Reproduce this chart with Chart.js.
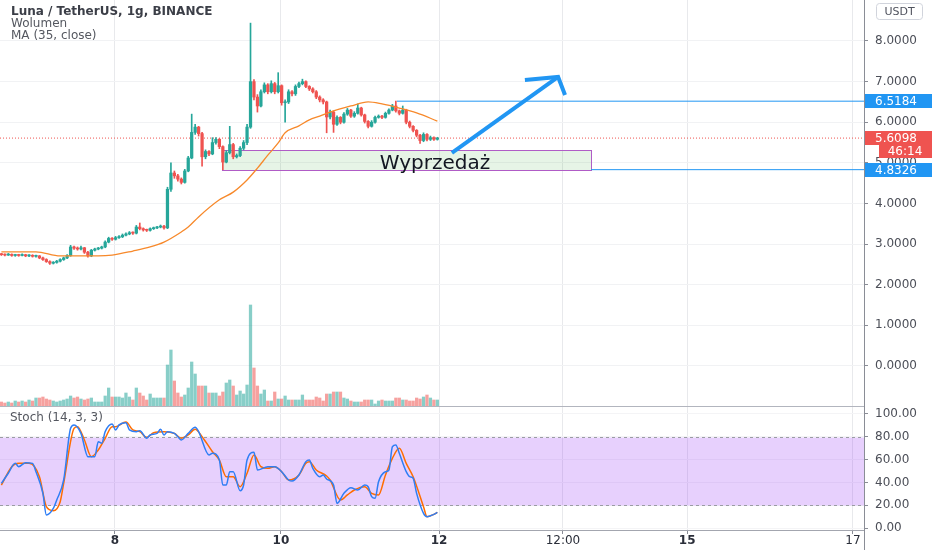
<!DOCTYPE html>
<html>
<head>
<meta charset="utf-8">
<title>Luna / TetherUS, 1g, BINANCE</title>
<script src="https://cdn.jsdelivr.net/npm/chart.js@4.4.1/dist/chart.umd.min.js"></script>
<style>
  html, body { margin: 0; padding: 0; background: #fff; }
  #wrap { position: relative; width: 932px; height: 550px; }
  #mainBox { position: absolute; left: 0; top: 0; width: 932px; height: 406px; }
  #stochBox { position: absolute; left: 0; top: 406px; width: 932px; height: 144px; }
</style>
</head>
<body>
<div id="wrap">
  <div id="mainBox"><canvas id="priceChart"></canvas></div>
  <div id="stochBox"><canvas id="stochChart"></canvas></div>
</div>
<script>
// hourly candles, index 0 = first visible bar
const opens = [
  2.75,2.74,2.73,2.75,2.72,2.73,2.72,2.74,2.71,2.72,
  2.70,2.71,2.66,2.62,2.57,2.53,2.55,2.58,2.62,2.66,
  2.72,2.93,2.90,2.88,2.91,2.80,2.71,2.85,2.88,2.90,
  2.93,3.05,3.14,3.12,3.16,3.18,3.22,3.25,3.28,3.27,
  3.42,3.38,3.35,3.34,3.38,3.40,3.42,3.44,3.40,4.35,
  4.75,4.68,4.60,4.52,4.80,5.12,5.75,5.88,5.72,5.15,
  5.28,5.22,5.50,5.58,5.40,5.02,5.25,5.45,5.15,5.18,
  5.36,5.50,5.88,7.00,6.62,6.40,6.75,6.92,6.75,6.95,
  6.75,6.90,6.48,6.50,6.75,6.70,6.88,6.95,7.00,6.88,
  6.82,6.75,6.62,6.55,6.50,6.13,6.25,5.95,6.12,6.00,
  6.20,6.30,6.15,6.22,6.35,6.18,6.02,5.90,6.00,6.12,
  6.15,6.12,6.22,6.30,6.40,6.28,6.22,6.30,6.00,5.90,
  5.80,5.68,5.55,5.70,5.58,5.62,5.58
];
const closes = [
  2.74,2.73,2.75,2.72,2.73,2.72,2.74,2.71,2.72,2.70,
  2.71,2.66,2.62,2.57,2.53,2.55,2.58,2.62,2.66,2.72,
  2.93,2.90,2.88,2.91,2.80,2.71,2.85,2.88,2.90,2.93,
  3.05,3.14,3.12,3.16,3.18,3.22,3.25,3.28,3.27,3.42,
  3.38,3.35,3.34,3.38,3.40,3.42,3.44,3.40,4.35,4.75,
  4.68,4.60,4.52,4.80,5.12,5.75,5.88,5.72,5.15,5.28,
  5.22,5.50,5.58,5.40,5.02,5.25,5.45,5.15,5.18,5.36,
  5.50,5.88,7.00,6.62,6.40,6.75,6.92,6.75,6.95,6.75,
  6.90,6.48,6.50,6.75,6.70,6.88,6.95,7.00,6.88,6.82,
  6.75,6.62,6.55,6.50,6.13,6.25,5.95,6.12,6.00,6.20,
  6.30,6.15,6.22,6.35,6.18,6.02,5.90,6.00,6.12,6.15,
  6.12,6.22,6.30,6.40,6.28,6.22,6.30,6.00,5.90,5.80,
  5.68,5.55,5.70,5.58,5.62,5.58,5.61
];
const highs = [
  2.77,2.76,2.77,2.76,2.75,2.75,2.76,2.75,2.74,2.74,
  2.73,2.72,2.68,2.64,2.59,2.57,2.60,2.64,2.68,2.74,
  2.97,2.95,2.93,2.95,2.92,2.82,2.87,2.90,2.92,2.95,
  3.08,3.17,3.16,3.19,3.21,3.25,3.28,3.31,3.30,3.46,
  3.52,3.40,3.37,3.40,3.42,3.44,3.47,3.46,4.40,5.00,
  4.80,4.72,4.63,4.84,5.16,6.20,5.95,5.90,5.75,5.32,
  5.30,5.62,5.62,5.60,5.42,5.30,5.90,5.48,5.22,5.40,
  5.55,5.95,8.44,7.05,6.68,6.80,6.97,6.95,7.02,6.98,
  7.22,6.92,6.55,6.80,6.78,6.92,6.99,7.06,7.02,6.90,
  6.85,6.78,6.65,6.58,6.52,6.30,6.28,6.16,6.14,6.24,
  6.34,6.32,6.26,6.45,6.37,6.20,6.04,6.04,6.15,6.18,
  6.17,6.25,6.33,6.44,6.52,6.30,6.40,6.32,6.03,5.92,
  5.82,5.70,5.74,5.72,5.66,5.64,5.63
];
const lows = [
  2.72,2.71,2.72,2.70,2.70,2.70,2.71,2.69,2.69,2.68,
  2.68,2.64,2.60,2.55,2.50,2.51,2.53,2.56,2.60,2.64,
  2.70,2.87,2.85,2.86,2.77,2.68,2.69,2.83,2.86,2.88,
  2.91,3.03,3.09,3.10,3.14,3.16,3.20,3.23,3.24,3.25,
  3.35,3.32,3.31,3.32,3.36,3.38,3.40,3.37,3.38,4.30,
  4.62,4.55,4.48,4.50,4.78,5.10,5.70,5.66,4.92,5.10,
  5.18,5.20,5.46,5.35,4.83,5.00,5.22,5.10,5.12,5.15,
  5.32,5.45,5.85,6.55,6.25,6.38,6.72,6.70,6.72,6.70,
  6.72,6.42,6.00,6.46,6.65,6.66,6.85,6.92,6.85,6.78,
  6.72,6.58,6.50,6.45,5.74,6.08,5.75,5.92,5.96,5.98,
  6.17,6.12,6.12,6.20,6.15,5.98,5.86,5.88,5.98,6.10,
  6.09,6.10,6.20,6.28,6.25,6.18,6.20,5.96,5.86,5.76,
  5.64,5.48,5.52,5.54,5.55,5.55,5.56
];
// volume, relative units
const volumes = [
  4,3,4,3,5,4,5,4,6,5,
  8,8,9,7,6,5,4,5,6,7,
  10,8,9,7,6,7,8,4,4,4,
  10,18,9,9,9,8,13,9,6,18,
  13,10,6,12,8,8,8,8,41,56,
  25,13,9,11,18,44,32,20,20,20,
  13,13,13,10,14,23,26,20,11,15,
  12,21,101,38,20,12,16,5,5,14,
  7,7,10,6,6,6,6,11,6,6,
  6,9,8,5,12,12,14,14,14,8,
  7,5,4,4,4,6,6,6,2,5,
  6,5,5,5,8,8,6,6,5,5,
  8,7,9,11,8,6,6
];

// MA (35, close)
const maIdx = [0,10,17,28,32,38,43,47,52,54,57,63,67,71,74,77,80,82,86,89,92,95,101,106,110,115,120,126];
const maVal = [2.81,2.81,2.71,2.71,2.73,2.83,2.93,3.05,3.30,3.42,3.67,4.09,4.28,4.58,4.87,5.19,5.49,5.74,5.91,6.06,6.15,6.25,6.40,6.50,6.45,6.35,6.23,6.03];

// Stoch (14, 3, 3)
const kIdx = [0,2,4,5,7,9,10,12,13,15,16,18,20,21,23,25,27,28,29,30,32,33,34,36,37,39,40,42,43,45,46,47,48,50,51,52,54,56,57,60,61,63,64,65,66,67,69,70,71,73,74,77,79,81,83,84,86,88,89,90,92,93,94,96,97,99,101,103,105,106,107,108,109,111,112,113,114,115,117,118,119,120,122,123,125,126];
const kVal = [39.2,48.0,56.7,53.8,57.3,56.7,49.4,30.4,11.4,17.2,24.6,42.1,87.4,90.4,83.0,62.6,62.6,75.7,74.3,84.5,91.2,86.0,90.4,92.4,86.0,84.5,85.4,78.7,81.6,83.0,86.5,81.6,84.5,83.0,80.1,77.2,83.0,88.3,84.5,64.0,65.5,59.6,37.7,37.7,49.4,49.4,32.7,37.7,59.6,66.4,50.9,53.8,53.8,49.4,42.1,41.2,46.5,58.2,59.6,52.3,45.0,46.5,43.0,37.7,21.6,30.4,35.4,33.3,37.7,36.2,27.5,26.0,40.6,49.4,50.9,71.3,72.8,65.5,49.4,45.0,43.6,30.4,12.9,9.9,12.0,13.7];
const dIdx = [0,3,5,8,11,13,15,17,18,21,22,24,26,28,30,32,33,36,38,40,42,44,47,50,52,54,56,58,61,63,65,67,69,71,73,75,77,79,81,83,86,88,89,91,94,95,98,100,102,105,107,109,111,113,115,117,119,122,123,125,126];
const dVal = [37.7,53.8,56.7,56.7,45.0,18.7,15.2,23.1,39.2,87.4,88.9,77.2,62.6,68.4,78.7,88.9,88.9,93.0,86.0,84.5,79.5,83.6,84.5,83.0,78.7,81.6,86.5,80.1,66.9,59.6,45.0,45.0,36.2,48.0,64.0,53.8,52.3,53.8,49.4,42.1,46.5,56.7,58.2,50.9,45.6,42.1,24.6,29.0,33.3,36.2,30.4,29.0,46.5,61.1,69.9,56.7,45.0,18.7,9.9,12.0,13.7];

// time axis (bar index) and its labels
const timeTickIdx = [32.8, 80.8, 126.5, 162.3, 198.2, 246.1];
const timeTickLabels = ['8', '10', '12', '12:00', '15', '17'];
const timeTickBold = [true, true, true, false, true, false];
const priceTicks = [0, 1, 2, 3, 4, 5, 6, 7, 8];
const stochTicks = [0, 20, 40, 60, 80, 100];

// drawings on the chart
const lastPrice = 5.6098;
const countdown = '46:14';
const resistance = 6.5184, resistanceFrom = 114.3;
const support = 4.8326, supportFrom = 170.4;
const zone = { from: 63.8, to: 170.4, low: 4.83, high: 5.32 };
const zoneLabel = 'Wyprzedaż', zoneLabelAt = [125.3, 4.85];
const arrowShaft = [[130.2, 5.243], [160.9, 7.114]];
const arrowHead = [[151.3, 7.04], [160.9, 7.114], [162.9, 6.671]];

const X_MIN = -0.4, X_MAX = 249.3;
const PRICE_MIN = -0.985, PRICE_MAX = 9.009;
const STOCH_MIN = -1.75, STOCH_MAX = 107.0;
const VOL_MAX = 406;

const FONT = 'DejaVu Sans';
Chart.defaults.font.family = FONT;
Chart.defaults.font.size = 12;
Chart.defaults.color = '#4c4f58';

const AXIS = '#8a8d96';
const UP = '#26a69a', DOWN = '#ef5350';

const bars = closes.map((c, i) => i);
const isUp = closes.map((c, i) => c >= opens[i]);
const candleColor = isUp.map(u => u ? UP : DOWN);
const volColor = isUp.map(u => u ? 'rgba(38,166,154,0.55)' : 'rgba(239,83,80,0.55)');

const pts = (xs, ys) => xs.map((x, k) => ({ x: x, y: ys[k] }));
const pairs = arr => arr.map(p => ({ x: p[0], y: p[1] }));

function priceAxisWidth(scale) {
  scale.width = 68;
  scale.paddingTop = 0;
  scale.paddingBottom = 0;
}

function tag(ctx, y, text, bg, xFrom, align, textX) {
  ctx.fillStyle = bg;
  ctx.fillRect(xFrom, Math.round(y) - 7, 932 - xFrom, 14);
  ctx.fillStyle = '#fff';
  ctx.textAlign = align;
  ctx.textBaseline = 'middle';
  ctx.fillText(text, textX, Math.round(y) + 0.5);
}

const mainDecor = {
  id: 'mainDecor',
  beforeDatasetsDraw(chart) {
    const { ctx, scales: { x, y } } = chart;
    const x0 = Math.round(x.getPixelForValue(zone.from)) + 0.5;
    const x1 = Math.round(x.getPixelForValue(zone.to)) + 0.5;
    const y0 = Math.round(y.getPixelForValue(zone.high)) + 0.5;
    const y1 = Math.round(y.getPixelForValue(zone.low)) + 0.5;
    ctx.save();
    ctx.fillStyle = 'rgba(76,175,80,0.14)';
    ctx.fillRect(x0, y0, x1 - x0, y1 - y0);
    ctx.strokeStyle = '#b05cc6';
    ctx.lineWidth = 1;
    ctx.strokeRect(x0, y0, x1 - x0, y1 - y0);
    ctx.restore();
  },
  afterDatasetsDraw(chart) {
    const { ctx, scales: { x, y } } = chart;
    ctx.save();
    ctx.font = '20px ' + FONT;
    ctx.fillStyle = '#131722';
    ctx.textAlign = 'center';
    ctx.textBaseline = 'alphabetic';
    ctx.fillText(zoneLabel, x.getPixelForValue(zoneLabelAt[0]), y.getPixelForValue(zoneLabelAt[1]));
    ctx.restore();
  },
  afterDraw(chart) {
    const { ctx, chartArea: a, scales: { y } } = chart;
    ctx.save();
    // legend block
    ctx.textAlign = 'left';
    ctx.textBaseline = 'alphabetic';
    ctx.font = 'bold 12px ' + FONT;
    ctx.fillStyle = '#3b3e47';
    ctx.fillText('Luna / TetherUS, 1g, BINANCE', 11, 15);
    ctx.font = '12px ' + FONT;
    ctx.fillStyle = '#555860';
    ctx.fillText('Wolumen', 11, 27);
    ctx.fillText('MA (35, close)', 11, 39);

    // currency button
    ctx.strokeStyle = '#d1d4dc';
    ctx.lineWidth = 1;
    ctx.beginPath();
    ctx.roundRect(876.5, 3.5, 46, 16, 3);
    ctx.stroke();
    ctx.font = '11px ' + FONT;
    ctx.fillStyle = '#50535e';
    ctx.textAlign = 'center';
    ctx.textBaseline = 'middle';
    ctx.fillText('USDT', 899.5, 12);

    // price tags
    ctx.font = '12px ' + FONT;
    const r = a.right + 1;
    tag(ctx, y.getPixelForValue(resistance), resistance.toFixed(4), '#2196f3', r, 'left', 875);
    const ly = y.getPixelForValue(lastPrice);
    tag(ctx, ly, lastPrice.toFixed(4), '#ef5350', r, 'left', 875);
    tag(ctx, ly + 13, countdown, '#ef5350', 879, 'center', 905);
    tag(ctx, y.getPixelForValue(support), support.toFixed(4), '#2196f3', r, 'left', 875);
    ctx.restore();
  }
};

new Chart(document.getElementById('priceChart'), {
  type: 'bar',
  data: {
    datasets: [
      { type: 'line', data: pairs(arrowShaft), borderColor: '#2196f3', borderWidth: 4,
        pointRadius: 0, borderCapStyle: 'butt', order: 0 },
      { type: 'line', data: pairs(arrowHead), borderColor: '#2196f3', borderWidth: 4,
        pointRadius: 0, borderCapStyle: 'butt', borderJoinStyle: 'miter', order: 0 },
      { type: 'line', data: pts(maIdx, maVal), borderColor: '#f7892b', borderWidth: 1.3,
        pointRadius: 0, cubicInterpolationMode: 'monotone', order: 1 },
      { data: bars.map(i => ({ x: i, y: [opens[i], closes[i]] })), backgroundColor: candleColor,
        barThickness: 2.6, minBarLength: 1, grouped: false, order: 2 },
      { data: bars.map(i => ({ x: i, y: [lows[i], highs[i]] })), backgroundColor: candleColor,
        barThickness: 1, grouped: false, order: 3 },
      { type: 'line', data: [{ x: resistanceFrom, y: resistance }, { x: X_MAX, y: resistance }],
        borderColor: '#2196f3', borderWidth: 1, pointRadius: 0, order: 4 },
      { type: 'line', data: [{ x: supportFrom, y: support }, { x: X_MAX, y: support }],
        borderColor: '#2196f3', borderWidth: 1, pointRadius: 0, order: 4 },
      { type: 'line', data: [{ x: X_MIN, y: lastPrice }, { x: X_MAX, y: lastPrice }],
        borderColor: '#ef5350', borderWidth: 1, borderDash: [1, 2], pointRadius: 0, order: 4 },
      { yAxisID: 'yVol', data: bars.map(i => ({ x: i, y: volumes[i] })), backgroundColor: volColor,
        barThickness: 2.6, grouped: false, order: 5 }
    ]
  },
  options: {
    responsive: true,
    maintainAspectRatio: false,
    animation: false,
    layout: { padding: 0 },
    plugins: { legend: { display: false }, tooltip: { enabled: false } },
    scales: {
      x: {
        type: 'linear', min: X_MIN, max: X_MAX, offset: false,
        afterBuildTicks: s => { s.ticks = timeTickIdx.map(v => ({ value: v })); },
        afterFit: s => { s.height = 0; s.paddingLeft = 0; s.paddingRight = 0; },
        ticks: { display: false },
        grid: { color: '#e8e9ec', drawTicks: false, offset: false },
        border: { display: false }
      },
      y: {
        position: 'right', min: PRICE_MIN, max: PRICE_MAX,
        afterBuildTicks: s => { s.ticks = priceTicks.map(v => ({ value: v })); },
        afterFit: priceAxisWidth,
        ticks: { callback: v => v.toFixed(4), padding: 7, autoSkip: false, color: '#4c4f58' },
        grid: { color: '#f1f2f4', tickColor: AXIS, tickLength: 4 },
        border: { color: AXIS }
      },
      yVol: { display: false, min: 0, max: VOL_MAX }
    }
  },
  plugins: [mainDecor]
});

const stochDecor = {
  id: 'stochDecor',
  beforeDatasetsDraw(chart) {
    const { ctx, chartArea: a, scales: { y } } = chart;
    const y80 = Math.round(y.getPixelForValue(80)) + 0.5;
    const y20 = Math.round(y.getPixelForValue(20)) + 0.5;
    ctx.save();
    ctx.fillStyle = 'rgba(155,60,245,0.24)';
    ctx.fillRect(a.left, y80, a.width, y20 - y80);
    ctx.strokeStyle = '#9a9ca3';
    ctx.lineWidth = 1;
    ctx.setLineDash([3, 3]);
    ctx.beginPath();
    ctx.moveTo(a.left, y80); ctx.lineTo(a.right, y80);
    ctx.moveTo(a.left, y20); ctx.lineTo(a.right, y20);
    ctx.stroke();
    ctx.restore();
  },
  afterDraw(chart) {
    const { ctx, chartArea: a } = chart;
    ctx.save();
    // clip the 0.00 label under the time scale
    ctx.fillStyle = '#fff';
    ctx.fillRect(a.right + 1, a.bottom + 1, 932 - a.right, chart.height - a.bottom);
    // pane separator and price-scale line
    ctx.strokeStyle = '#b2b5be';
    ctx.lineWidth = 1;
    ctx.beginPath();
    ctx.moveTo(0, 0.5); ctx.lineTo(a.right, 0.5);
    ctx.stroke();
    ctx.strokeStyle = AXIS;
    ctx.beginPath();
    ctx.moveTo(a.right + 0.5, 0); ctx.lineTo(a.right + 0.5, chart.height);
    ctx.stroke();
    ctx.font = '12px ' + FONT;
    ctx.fillStyle = '#555860';
    ctx.textAlign = 'left';
    ctx.textBaseline = 'alphabetic';
    ctx.fillText('Stoch (14, 3, 3)', 10, 15);
    ctx.restore();
  }
};

new Chart(document.getElementById('stochChart'), {
  type: 'line',
  data: {
    datasets: [
      { data: pts(kIdx, kVal), borderColor: '#2f7ef5', borderWidth: 1.5, pointRadius: 0,
        cubicInterpolationMode: 'monotone', order: 1 },
      { data: pts(dIdx, dVal), borderColor: '#ff6d00', borderWidth: 1.5, pointRadius: 0,
        cubicInterpolationMode: 'monotone', order: 2 }
    ]
  },
  options: {
    responsive: true,
    maintainAspectRatio: false,
    animation: false,
    layout: { padding: 0 },
    plugins: { legend: { display: false }, tooltip: { enabled: false } },
    scales: {
      x: {
        type: 'linear', min: X_MIN, max: X_MAX, offset: false,
        afterBuildTicks: s => { s.ticks = timeTickIdx.map(v => ({ value: v })); },
        afterFit: s => { s.height = 20; s.paddingLeft = 0; s.paddingRight = 0; },
        ticks: {
          callback: (v, i) => timeTickLabels[i],
          autoSkip: false, maxRotation: 0, padding: 0, color: '#2a2e39',
          font: c => ({ family: FONT, size: 12, weight: timeTickBold[c.index] ? 'bold' : 'normal' })
        },
        grid: { color: '#e8e9ec', tickColor: AXIS, tickLength: 4 },
        border: { color: '#a3a6af' }
      },
      y: {
        position: 'right', min: STOCH_MIN, max: STOCH_MAX,
        afterBuildTicks: s => { s.ticks = stochTicks.map(v => ({ value: v })); },
        afterFit: priceAxisWidth,
        ticks: { callback: v => v.toFixed(2), padding: 7, autoSkip: false, color: '#4c4f58' },
        grid: { color: '#f4f4f6', tickColor: AXIS, tickLength: 4 },
        border: { color: AXIS }
      }
    }
  },
  plugins: [stochDecor]
});
</script>
</body>
</html>
